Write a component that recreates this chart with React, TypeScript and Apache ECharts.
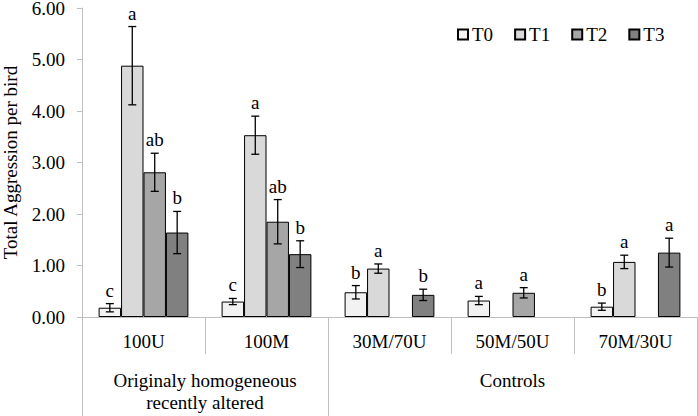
import React, { useEffect, useRef } from "react";
import * as echarts from "echarts";

const categories = ["100U", "100M", "30M/70U", "50M/50U", "70M/30U"];
const seriesNames = ["T0", "T1", "T2", "T3"];
const t0Values = [0.18, 0.30, 0.48, 0.32, 0.20];
const t1Values = [4.88, 3.53, 0.94, null, 1.07];
const t2Values = [2.81, 1.85, null, 0.47, null];
const t3Values = [1.64, 1.22, 0.43, null, 1.25];
const t0Errors = [0.08, 0.06, 0.13, 0.08, 0.07];
const t1Errors = [0.76, 0.37, 0.09, null, 0.13];
const t2Errors = [0.37, 0.43, null, 0.10, null];
const t3Errors = [0.41, 0.26, 0.11, null, 0.28];
const t0Letters = ["c", "c", "b", "a", "b"];
const t1Letters = ["a", "a", "a", "", "a"];
const t2Letters = ["ab", "ab", "", "a", ""];
const t3Letters = ["b", "b", "b", "", "a"];
const groupLabels = ["Originaly homogeneous\nrecently altered", "Controls"];
const groupCenters = [1, 3.5];
const groupBounds = [0, 2, 5];
const yTicks = [0, 1, 2, 3, 4, 5, 6];

const colors = ["#f2f2f2", "#d9d9d9", "#a6a6a6", "#808080"];
const FONT = "Liberation Serif";
const AXIS_GREY = "#bfbfbf";

export default function App() {
  const ref = useRef<HTMLDivElement>(null);
  useEffect(() => {
    if (!ref.current) return;
    const chart = echarts.init(ref.current, null, { renderer: "svg" });
    const values = [t0Values, t1Values, t2Values, t3Values];
    const errors = [t0Errors, t1Errors, t2Errors, t3Errors];
    const letters = [t0Letters, t1Letters, t2Letters, t3Letters];
    const catGap = 0.27;

    const barSeries = seriesNames.map((name, s) => ({
      name,
      type: "bar",
      xAxisIndex: 0,
      yAxisIndex: 0,
      data: values[s].map((v) => (v == null ? "-" : v)),
      barGap: "0%",
      barCategoryGap: "27%",
      itemStyle: { color: colors[s], borderColor: "#000", borderWidth: 1 },
      z: 2,
    }));

    const errSeries = seriesNames.map((name, s) => ({
      name: name + " err",
      type: "custom",
      xAxisIndex: 0,
      yAxisIndex: 0,
      z: 5,
      encode: { x: 0, y: 1 },
      data: values[s]
        .map((v, i) => (v == null ? null : [i, v, errors[s][i] as number]))
        .filter((d) => d != null),
      renderItem: (params: any, api: any) => {
        const idx = api.value(0);
        const v = api.value(1);
        const e = api.value(2);
        const center = api.coord([idx, v])[0];
        const band = api.size([1, 0])[0];
        const bw = (band * (1 - catGap)) / 4;
        const x = center + (s - 1.5) * bw;
        const top = api.coord([idx, v + e])[1];
        const bot = api.coord([idx, v - e])[1];
        const cap = 4;
        const ls = { stroke: "#000", lineWidth: 1.3 };
        return {
          type: "group",
          children: [
            { type: "line", shape: { x1: x, y1: top, x2: x, y2: bot }, style: ls },
            { type: "line", shape: { x1: x - cap, y1: top, x2: x + cap, y2: top }, style: ls },
            { type: "line", shape: { x1: x - cap, y1: bot, x2: x + cap, y2: bot }, style: ls },
            {
              type: "text",
              x,
              y: top - 4,
              style: {
                text: letters[s][idx],
                fill: "#000",
                font: `19px "${FONT}"`,
                align: "center",
                verticalAlign: "bottom",
              },
            },
          ],
        };
      },
    }));

    chart.setOption({
      animation: false,
      backgroundColor: "#fff",
      textStyle: { fontFamily: FONT, color: "#000" },
      grid: { left: 82, right: 1, top: 8, bottom: 99, containLabel: false, outerBoundsMode: "none" },
      legend: {
        data: seriesNames,
        left: 452,
        top: 20,
        icon: "rect",
        itemWidth: 10,
        itemHeight: 10,
        itemGap: 21,
        textStyle: { fontFamily: FONT, fontSize: 19, color: "#000", padding: [0, 0, 0, -1] },
      },
      xAxis: [
        {
          type: "category",
          data: categories,
          position: "bottom",
          axisLine: { show: true, lineStyle: { color: AXIS_GREY, width: 1 } },
          axisTick: { show: true, interval: 0, length: 37, lineStyle: { color: AXIS_GREY } },
          axisLabel: { interval: 0, margin: 15, fontFamily: FONT, fontSize: 19, color: "#000" },
          splitLine: { show: false },
        },
        {
          type: "value",
          min: 0,
          max: 5,
          position: "bottom",
          offset: 0,
          axisLine: { show: false },
          splitLine: { show: false },
          axisTick: {
            show: true,
            customValues: groupBounds,
            length: 99,
            lineStyle: { color: AXIS_GREY },
          },
          axisLabel: {
            show: true,
            customValues: groupCenters,
            margin: 52,
            fontFamily: FONT,
            fontSize: 19,
            lineHeight: 22,
            color: "#000",
            formatter: (v: number) => {
              const k = groupCenters.indexOf(v);
              return k >= 0 ? groupLabels[k] : "";
            },
          },
        },
      ],
      yAxis: {
        type: "value",
        min: yTicks[0],
        max: yTicks[yTicks.length - 1],
        interval: 1,
        name: "Total Aggression per bird",
        nameLocation: "middle",
        nameGap: 62,
        nameTextStyle: { fontFamily: FONT, fontSize: 19, color: "#000" },
        axisLine: { show: true, lineStyle: { color: AXIS_GREY } },
        axisTick: { show: true, length: 5, lineStyle: { color: AXIS_GREY } },
        axisLabel: {
          margin: 17,
          fontFamily: FONT,
          fontSize: 19,
          lineHeight: 16,
          color: "#000",
          formatter: (v: number) => v.toFixed(2),
        },
        splitLine: { show: false },
      },
      series: [...barSeries, ...errSeries],
    });
    return () => chart.dispose();
  }, []);
  return <div ref={ref} style={{ width: 698, height: 416, position: "absolute", left: 0, top: 0 }} />;
}
